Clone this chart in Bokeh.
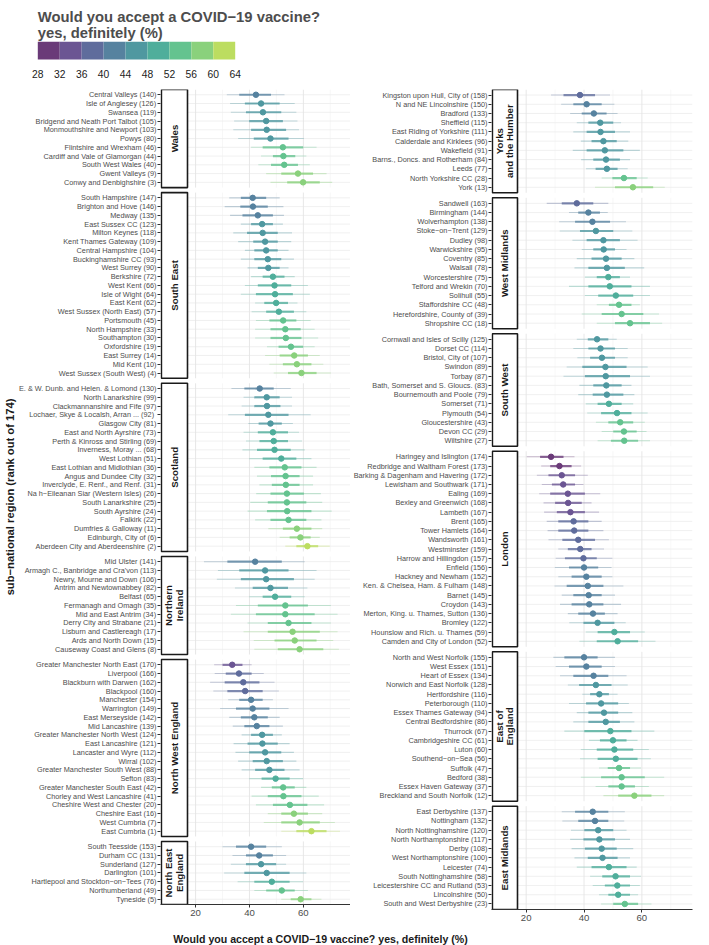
import math
from bokeh.plotting import figure
from bokeh.models import Range1d, FixedTicker, ColumnDataSource, Title
from bokeh.layouts import column, row
from bokeh.embed import file_html
from bokeh.resources import INLINE
from bokeh.core.properties import value

FONT = "Liberation Sans"

# ---------------- legend / axes ----------------
legend_breaks = [28, 32, 36, 40, 44, 48, 52, 56, 60, 64]
legend_colors = ["#6a3a78", "#6b5593", "#5f6c9c", "#56829f", "#4f98a0",
                 "#4fae9b", "#64c38f", "#8ad17c", "#bcdd60"]
x_ticks = [20, 40, 60]
grid_minor = [30, 50, 70]
title_lines = ["Would you accept a COVID\u221219 vaccine?", "yes, definitely (%)"]
x_title = "Would you accept a COVID\u221219 vaccine? yes, definitely (%)"
y_title = "sub\u2212national region (rank out of 174)"

# ---------------- data: left column ----------------
wales_labels = ["Central Valleys (140)", "Isle of Anglesey (126)", "Swansea (119)",
                "Bridgend and Neath Port Talbot (105)", "Monmouthshire and Newport (103)", "Powys (80)",
                "Flintshire and Wrexham (46)", "Cardiff and Vale of Glamorgan (44)", "South West Wales (40)",
                "Gwent Valleys (9)", "Conwy and Denbighshire (3)"]
wales_est = [42.4, 44.3, 45.0, 46.2, 46.4, 47.8, 52.4, 52.6, 52.9, 58.0, 59.9]
wales_lo95 = [31.6, 32.8, 33.1, 34.3, 34.0, 35.8, 40.6, 44.3, 43.3, 46.2, 47.8]
wales_hi95 = [53.0, 56.8, 57.4, 57.8, 58.4, 60.2, 64.9, 61.1, 62.4, 68.6, 70.7]
wales_lo50 = [36.2, 38.3, 38.7, 39.9, 40.6, 41.6, 44.9, 48.7, 48.0, 51.8, 54.0]
wales_hi50 = [48.0, 51.2, 51.8, 52.4, 53.6, 54.5, 59.9, 57.0, 58.0, 63.6, 66.1]

se_labels = ["South Hampshire (147)", "Brighton and Hove (146)", "Medway (135)", "East Sussex CC (123)",
             "Milton Keynes (118)", "Kent Thames Gateway (109)", "Central Hampshire (104)",
             "Buckinghamshire CC (93)", "West Surrey (90)", "Berkshire (72)", "West Kent (66)",
             "Isle of Wight (64)", "East Kent (62)", "West Sussex (North East) (57)", "Portsmouth (45)",
             "North Hampshire (33)", "Southampton (30)", "Oxfordshire (19)", "East Surrey (14)",
             "Mid Kent (10)", "West Sussex (South West) (4)"]
se_est = [41.2, 41.3, 43.1, 44.7, 44.9, 45.8, 46.2, 46.8, 47.0, 48.7, 49.3, 49.5, 49.9, 50.9, 52.5,
          53.3, 53.5, 55.4, 56.6, 57.6, 59.3]
se_lo95 = [32.5, 30.8, 32.8, 36.8, 34.0, 35.8, 38.3, 36.8, 39.3, 40.6, 38.3, 36.8, 42.1, 40.8, 42.4,
           42.1, 42.1, 46.5, 45.8, 47.4, 49.0]
se_hi95 = [51.2, 52.6, 52.8, 52.4, 55.8, 55.5, 54.5, 56.5, 54.5, 56.8, 61.7, 62.4, 57.8, 61.1, 62.7,
           64.2, 65.5, 64.2, 66.1, 67.4, 70.2]
se_lo50 = [36.8, 36.6, 37.4, 40.6, 39.1, 41.4, 41.8, 41.8, 43.1, 44.9, 43.1, 42.4, 45.5, 46.2, 47.4,
           47.8, 47.8, 50.8, 51.2, 52.4, 54.3]
se_hi50 = [46.2, 46.8, 48.7, 48.7, 50.5, 50.5, 50.5, 51.8, 51.2, 53.0, 55.5, 56.1, 54.3, 56.5, 57.4,
           59.0, 59.3, 59.9, 61.7, 63.0, 64.9]

sco_labels = ["E. & W. Dunb. and Helen. & Lomond (130)", "North Lanarkshire (99)",
              "Clackmannanshire and Fife (97)", "Lochaer, Skye & Localsh, Arran ...  (92)",
              "Glasgow City (81)", "East and North Ayrshire (73)", "Perth & Kinross and Stirling (69)",
              "Inverness, Moray ... (68)", "West Lothian (51)", "East Lothian and Midlothian (36)",
              "Angus and Dundee City (32)", "Inverclyde, E. Renf., and Renf. (31)",
              "Na h\u2212Eileanan Siar (Western Isles) (26)", "South Lanarkshire (25)", "South Ayrshire (24)",
              "Falkirk (22)", "Dumfries & Galloway (11)", "Edinburgh, City of (6)",
              "Aberdeen City and Aberdeenshire (2)"]
sco_est = [43.8, 46.4, 46.5, 47.0, 47.8, 48.7, 49.0, 49.3, 51.8, 53.1, 53.4, 53.5, 53.9, 53.9, 54.0,
           54.5, 57.6, 58.9, 61.5]
sco_lo95 = [33.3, 37.8, 37.1, 32.1, 39.6, 37.8, 38.7, 37.4, 39.9, 41.8, 42.8, 43.7, 42.5, 40.3, 39.3,
            42.1, 47.0, 51.2, 53.3]
sco_hi95 = [55.3, 55.8, 55.8, 62.7, 56.1, 58.4, 59.5, 60.5, 63.0, 64.9, 63.6, 63.6, 66.5, 67.0, 70.5,
            66.7, 67.0, 66.1, 69.8]
sco_lo50 = [38.1, 41.8, 41.8, 38.3, 43.4, 43.1, 43.7, 42.8, 44.9, 47.4, 48.0, 48.3, 47.8, 46.8, 46.5,
            47.8, 52.4, 54.9, 57.4]
sco_hi50 = [49.0, 51.2, 51.5, 54.5, 52.0, 54.3, 54.3, 55.3, 57.4, 59.3, 58.6, 58.6, 60.2, 61.1, 63.0,
            61.1, 63.0, 62.7, 65.5]

ni_labels = ["Mid Ulster (141)", "Armagh C., Banbridge and Cra'von (113)", "Newry, Mourne and Down (106)",
             "Antrim and Newtownabbey (82)", "Belfast (65)", "Fermanagh and Omagh (35)",
             "Mid and East Antrim (34)", "Derry City and Strabane (21)", "Lisburn and Castlereagh (17)",
             "Ards and North Down (15)", "Causeway Coast and Glens (8)"]
ni_est = [42.1, 45.8, 46.2, 47.8, 49.5, 53.3, 53.3, 54.5, 56.0, 56.8, 58.6]
ni_lo95 = [23.1, 28.3, 27.9, 34.6, 39.9, 35.0, 33.1, 39.3, 37.8, 41.6, 41.8]
ni_hi95 = [60.5, 64.9, 64.2, 61.5, 60.5, 70.2, 72.7, 70.2, 72.7, 71.1, 73.2]
ni_lo50 = [31.8, 36.2, 36.8, 41.2, 44.9, 43.1, 42.4, 46.8, 46.8, 49.3, 50.5]
ni_hi50 = [52.0, 54.5, 56.5, 54.3, 55.5, 61.7, 64.2, 63.0, 66.1, 64.9, 67.4]

nw_labels = ["Greater Manchester North East (170)", "Liverpool (166)", "Blackburn with Darwen (162)",
             "Blackpool (160)", "Manchester (154)", "Warrington (149)", "East Merseyside (142)",
             "Mid Lancashire (139)", "Greater Manchester North West (124)", "East Lancashire (121)",
             "Lancaster and Wyre (112)", "Wirral (102)", "Greater Manchester South West (88)", "Sefton (83)",
             "Greater Manchester South East (42)", "Chorley and West Lancashire (41)",
             "Cheshire West and Chester (20)", "Cheshire East (16)", "West Cumbria (7)", "East Cumbria (1)"]
nw_est = [33.6, 36.1, 37.7, 38.4, 40.6, 41.2, 41.8, 42.7, 44.7, 44.8, 45.8, 46.4, 47.4, 49.7, 52.5,
          52.6, 55.0, 56.5, 58.6, 63.0]
nw_lo95 = [26.9, 27.1, 25.4, 26.6, 32.1, 29.1, 32.5, 33.8, 37.1, 34.1, 34.8, 35.8, 37.1, 39.9, 44.3,
           40.8, 42.4, 46.8, 45.3, 51.8]
nw_hi95 = [40.8, 45.3, 49.3, 50.9, 48.7, 54.5, 51.2, 52.4, 52.0, 54.9, 56.5, 57.4, 58.6, 59.9, 61.1,
           65.7, 67.7, 67.0, 71.7, 73.6]
nw_lo50 = [30.0, 31.2, 30.8, 31.8, 36.2, 35.0, 36.8, 38.1, 40.6, 39.3, 39.9, 41.2, 42.1, 44.5, 48.3,
           46.8, 48.7, 51.8, 51.8, 57.4]
nw_hi50 = [37.4, 40.8, 43.7, 44.9, 44.9, 47.4, 46.8, 47.4, 48.7, 50.5, 51.8, 52.4, 53.0, 54.9, 56.8,
           59.3, 61.5, 61.7, 66.1, 68.6]

ne_labels = ["South Teesside (153)", "Durham CC (131)", "Sunderland (127)", "Darlington (101)",
             "Hartlepool and Stockton\u2212on\u2212Tees (76)", "Northumberland (49)", "Tyneside (5)"]
ne_est = [40.6, 43.6, 44.3, 46.4, 48.3, 52.0, 59.0]
ne_lo95 = [30.0, 33.7, 33.1, 30.6, 35.6, 41.8, 51.8]
ne_hi95 = [52.0, 53.6, 53.6, 61.1, 59.9, 61.7, 66.7]
ne_lo50 = [35.0, 38.7, 38.7, 38.1, 41.8, 46.2, 55.3]
ne_hi50 = [46.2, 48.7, 49.9, 54.9, 54.9, 56.8, 63.0]

# ---------------- data: right column ----------------
yh_labels = ["Kingston upon Hull, City of (158)", "N and NE Lincolnshire (150)", "Bradford (133)",
             "Sheffield (115)", "East Riding of Yorkshire (111)", "Calderdale and Kirklees (96)",
             "Wakefield (91)", "Barns., Doncs. and Rotherham (84)", "Leeds (77)", "North Yorkshire CC (28)",
             "York (13)"]
yh_est = [38.6, 40.9, 43.4, 45.6, 45.7, 46.7, 47.2, 47.6, 47.9, 53.8, 56.9]
yh_lo95 = [28.6, 32.1, 35.2, 37.5, 36.3, 38.9, 36.1, 39.0, 40.7, 46.1, 43.8]
yh_hi95 = [49.0, 50.5, 51.6, 52.8, 55.9, 55.3, 59.3, 55.9, 55.1, 62.0, 67.9]
yh_lo50 = [32.9, 36.3, 39.2, 41.5, 40.9, 42.6, 40.9, 43.2, 44.0, 49.8, 50.7]
yh_hi50 = [43.8, 46.1, 47.8, 50.1, 50.7, 51.3, 53.6, 52.4, 51.6, 58.2, 63.9]

wm_labels = ["Sandwell (163)", "Birmingham (144)", "Wolverhampton (138)", "Stoke\u2212on\u2212Trent (129)",
             "Dudley (98)", "Warwickshire (95)", "Coventry (85)", "Walsall (78)", "Worcestershire (75)",
             "Telford and Wrekin (70)", "Solihull (55)", "Staffordshire CC (48)",
             "Herefordshire, County of (39)", "Shropshire CC (18)"]
wm_est = [37.5, 41.5, 42.9, 44.1, 46.7, 46.8, 47.6, 47.9, 48.4, 48.9, 51.0, 52.1, 53.0, 55.9]
wm_lo95 = [27.1, 34.8, 31.4, 31.6, 36.0, 39.2, 37.5, 36.7, 40.3, 34.8, 40.3, 44.4, 39.2, 44.4]
wm_hi95 = [48.4, 48.2, 54.5, 56.7, 58.5, 54.7, 57.4, 60.8, 55.9, 62.8, 62.8, 59.3, 65.9, 67.0]
wm_lo50 = [32.3, 38.0, 36.9, 38.6, 40.9, 43.2, 42.6, 41.5, 44.4, 41.5, 44.9, 48.6, 46.1, 50.7]
wm_hi50 = [43.2, 45.5, 49.0, 50.1, 52.4, 50.7, 53.0, 54.1, 52.4, 56.4, 57.0, 56.4, 60.5, 62.8]

sw_labels = ["Cornwall and Isles of Scilly (125)", "Dorset CC (114)", "Bristol, City of (107)",
             "Swindon (89)", "Torbay (87)", "Bath, Somerset and S. Gloucs. (83)",
             "Bournemouth and Poole (79)", "Somerset (71)", "Plymouth (54)", "Gloucestershire (43)",
             "Devon CC (29)", "Wiltshire (27)"]
sw_est = [44.5, 45.7, 46.2, 47.4, 47.5, 47.7, 47.9, 48.6, 51.4, 52.5, 53.8, 53.9]
sw_lo95 = [37.5, 36.3, 37.7, 34.0, 32.9, 38.4, 38.0, 40.6, 41.1, 44.1, 46.1, 44.7]
sw_hi95 = [51.3, 55.1, 55.1, 62.0, 62.8, 56.4, 57.4, 57.0, 62.0, 61.0, 61.6, 62.8]
sw_lo50 = [41.3, 41.5, 42.1, 39.4, 40.3, 43.2, 43.0, 44.7, 45.9, 48.4, 50.1, 49.3]
sw_hi50 = [48.4, 50.7, 50.7, 54.7, 55.9, 53.0, 53.6, 53.0, 56.4, 57.0, 58.2, 58.7]

ldn_labels = ["Haringey and Islington (174)", "Redbridge and Waltham Forest (173)",
              "Barking & Dagenham and Havering (172)", "Lewisham and Southwark (171)", "Ealing (169)",
              "Bexley and Greenwich (168)", "Lambeth (167)", "Brent (165)", "Tower Hamlets (164)",
              "Wandsworth (161)", "Westminster (159)", "Harrow and Hillingdon (157)", "Enfield (156)",
              "Hackney and Newham (152)", "Ken. & Chelsea, Ham. & Fulham (148)", "Barnet (145)",
              "Croydon (143)", "Merton, King. u. Thames, Sutton (136)", "Bromley (122)",
              "Hounslow and Rich. u. Thames (59)", "Camden and City of London (52)"]
ldn_est = [28.6, 31.5, 32.3, 32.8, 34.4, 34.5, 35.3, 36.4, 36.6, 38.0, 38.7, 39.8, 40.0, 40.8, 41.3,
           41.6, 41.8, 43.1, 44.7, 50.5, 51.6]
ldn_lo95 = [20.2, 25.2, 23.7, 25.4, 24.5, 26.0, 26.2, 27.1, 27.4, 27.7, 31.1, 30.2, 29.9, 31.1, 29.8,
            32.3, 31.7, 34.4, 34.9, 40.6, 38.4]
ldn_hi95 = [36.7, 39.0, 41.3, 39.8, 45.6, 42.6, 45.2, 46.1, 46.7, 48.6, 46.9, 49.8, 49.5, 49.8, 53.6,
            50.7, 52.8, 51.6, 54.4, 61.0, 64.7]
ldn_lo50 = [24.8, 28.3, 27.7, 28.9, 28.3, 30.0, 30.6, 31.1, 31.1, 32.5, 34.4, 33.4, 34.8, 35.7, 34.0,
            36.3, 35.7, 38.0, 39.8, 44.7, 44.4]
ldn_hi50 = [32.9, 35.7, 36.9, 36.9, 40.3, 39.2, 40.3, 41.5, 41.5, 43.8, 42.6, 44.4, 44.9, 46.1, 46.7,
            46.1, 46.7, 47.2, 50.5, 55.9, 58.7]

ee_labels = ["North and West Norfolk (155)", "West Essex (151)", "Heart of Essex (134)",
             "Norwich and East Norfolk (128)", "Hertfordshire (116)", "Peterborough (110)",
             "Essex Thames Gateway (94)", "Central Bedfordshire (86)", "Thurrock (67)",
             "Cambridgeshire CC (61)", "Luton (60)", "Southend\u2212on\u2212Sea (56)", "Suffolk (47)",
             "Bedford (38)", "Essex Haven Gateway (37)", "Breckland and South Norfolk (12)"]
ee_est = [40.0, 40.8, 43.3, 44.1, 45.3, 45.9, 46.9, 47.5, 49.1, 50.0, 50.5, 51.0, 52.1, 53.0, 53.0, 57.4]
ee_lo95 = [29.4, 30.2, 31.7, 34.4, 39.4, 34.8, 37.5, 36.3, 33.2, 41.7, 38.9, 38.6, 45.2, 38.9, 44.0, 46.7]
ee_hi95 = [50.7, 50.7, 54.7, 55.1, 51.6, 55.5, 56.7, 57.4, 64.3, 58.5, 62.4, 63.1, 59.7, 67.7, 62.4, 67.7]
ee_lo50 = [33.2, 34.8, 36.3, 38.3, 42.1, 40.7, 41.5, 41.5, 40.1, 45.5, 44.4, 44.7, 48.2, 45.9, 48.4, 51.8]
ee_hi50 = [44.7, 46.1, 48.4, 49.5, 48.6, 51.8, 51.8, 52.4, 56.4, 54.7, 57.0, 58.5, 55.9, 61.0, 57.6, 63.3]

em_labels = ["East Derbyshire (137)", "Nottingham (132)", "North Nottinghamshire (120)",
             "North Northamptonshire (117)", "Derby (108)", "West Northamptonshire (100)", "Leicester (74)",
             "South Nottinghamshire (58)", "Leicestershire CC and Rutland (53)", "Lincolnshire (50)",
             "South and West Derbyshire (23)"]
em_est = [43.0, 43.8, 44.9, 45.3, 46.1, 46.4, 48.6, 50.9, 51.5, 51.8, 54.1]
em_lo95 = [32.3, 32.5, 35.5, 35.2, 35.7, 36.7, 37.5, 42.1, 43.0, 45.2, 45.9]
em_hi95 = [54.1, 53.9, 54.7, 55.9, 57.0, 55.9, 58.2, 59.7, 59.3, 58.7, 63.3]
em_lo50 = [36.9, 38.0, 40.1, 39.8, 40.3, 41.3, 42.6, 46.3, 47.2, 48.4, 50.1]
em_hi50 = [48.4, 48.4, 50.1, 50.7, 51.3, 51.6, 54.7, 55.9, 55.9, 55.9, 58.7]

left_facets = [
    ("Wales", wales_labels, wales_est, wales_lo95, wales_hi95, wales_lo50, wales_hi50),
    ("South East", se_labels, se_est, se_lo95, se_hi95, se_lo50, se_hi50),
    ("Scotland", sco_labels, sco_est, sco_lo95, sco_hi95, sco_lo50, sco_hi50),
    ("Northern\nIreland", ni_labels, ni_est, ni_lo95, ni_hi95, ni_lo50, ni_hi50),
    ("North West England", nw_labels, nw_est, nw_lo95, nw_hi95, nw_lo50, nw_hi50),
    ("North East\nEngland", ne_labels, ne_est, ne_lo95, ne_hi95, ne_lo50, ne_hi50),
]
right_facets = [
    ("Yorks\nand the Humber", yh_labels, yh_est, yh_lo95, yh_hi95, yh_lo50, yh_hi50),
    ("West Midlands", wm_labels, wm_est, wm_lo95, wm_hi95, wm_lo50, wm_hi50),
    ("South West", sw_labels, sw_est, sw_lo95, sw_hi95, sw_lo50, sw_hi50),
    ("London", ldn_labels, ldn_est, ldn_lo95, ldn_hi95, ldn_lo50, ldn_hi50),
    ("East of\nEngland", ee_labels, ee_est, ee_lo95, ee_hi95, ee_lo50, ee_hi50),
    ("East Midlands", em_labels, em_est, em_lo95, em_hi95, em_lo50, em_hi50),
]

# ---------------- layout constants ----------------
X_LO, X_HI = 17.0, 77.5
GAP_PX = 5.0
TXT_GREY = "#4d4d4d"
PAGE_W = 709


def bin_color(v):
    for i in range(len(legend_colors)):
        if v < legend_breaks[i + 1]:
            return legend_colors[i]
    return legend_colors[-1]


def make_column(facets, frame_w, frame_h, strip_px, b_left, b_top, b_bottom, b_right, with_ytitle=False):
    panel_px = frame_w - strip_px
    scale = panel_px / (X_HI - X_LO)
    x_start = X_LO - strip_px / scale
    units = sum(len(f[1]) + 0.2 for f in facets)
    rowh = (frame_h - GAP_PX * (len(facets) - 1)) / units
    gap_u = GAP_PX / rowh
    total = frame_h / rowh

    p = figure(frame_width=frame_w, frame_height=frame_h,
               x_range=Range1d(x_start, X_HI), y_range=Range1d(total, 0),
               min_border_left=b_left, min_border_top=b_top,
               min_border_bottom=b_bottom, min_border_right=b_right,
               output_backend="svg", toolbar_location=None, tools="")
    p.outline_line_color = None
    p.background_fill_color = "white"
    p.border_fill_color = "white"
    p.xgrid.visible = False
    p.ygrid.visible = False

    pts = dict(x=[], y=[], lo95=[], hi95=[], lo50=[], hi50=[], color=[])
    ticks, tick_labels = [], []
    hg = dict(x0=[], x1=[], y=[])
    vmaj = dict(x=[], y0=[], y1=[])
    vmin = dict(x=[], y0=[], y1=[])
    strips = dict(left=[], right=[], top=[], bottom=[], cx=[], cy=[], name=[])

    cur = 0.0
    for name, labels, est, lo95, hi95, lo50, hi50 in facets:
        top = cur
        bottom = top + len(labels) + 0.2
        for i, lab in enumerate(labels):
            y = round(top + 0.6 + i, 6)
            ticks.append(y)
            tick_labels.append(lab)
            pts["x"].append(est[i]); pts["y"].append(y)
            pts["lo95"].append(lo95[i]); pts["hi95"].append(hi95[i])
            pts["lo50"].append(lo50[i]); pts["hi50"].append(hi50[i])
            pts["color"].append(bin_color(est[i]))
            hg["x0"].append(X_LO); hg["x1"].append(X_HI); hg["y"].append(y)
        for g in x_ticks:
            vmaj["x"].append(g); vmaj["y0"].append(top); vmaj["y1"].append(bottom)
        for g in grid_minor:
            vmin["x"].append(g); vmin["y0"].append(top); vmin["y1"].append(bottom)
        strips["left"].append(x_start + 0.9 / scale)
        strips["right"].append(X_LO)
        strips["top"].append(top)
        strips["bottom"].append(bottom)
        strips["cx"].append((x_start + X_LO) / 2)
        strips["cy"].append((top + bottom) / 2)
        strips["name"].append(name)
        cur = bottom + gap_u

    # grid
    p.segment(x0="x", x1="x", y0="y0", y1="y1", source=ColumnDataSource(vmin),
              line_color="#f1f1f1", line_width=0.6)
    p.segment(x0="x0", x1="x1", y0="y", y1="y", source=ColumnDataSource(hg),
              line_color="#ececec", line_width=0.8)
    p.segment(x0="x", x1="x", y0="y0", y1="y1", source=ColumnDataSource(vmaj),
              line_color="#e4e4e4", line_width=0.9)

    # strips
    ssrc = ColumnDataSource(strips)
    p.quad(left="left", right="right", top="top", bottom="bottom", source=ssrc,
           fill_color="white", line_color="#1a1a1a", line_width=1.6)
    p.text(x="cx", y="cy", text="name", source=ssrc, angle=math.pi / 2,
           text_align="center", text_baseline="middle", text_font=value(FONT),
           text_font_style="bold", text_font_size="9.7px", text_color="#1a1a1a",
           text_line_height=0.95)

    # intervals and points
    src = ColumnDataSource(pts)
    p.segment(x0="lo95", x1="hi95", y0="y", y1="y", source=src, line_color="color",
              line_width=1.1, line_alpha=0.35)
    p.segment(x0="lo50", x1="hi50", y0="y", y1="y", source=src, line_color="color",
              line_width=2.2, line_alpha=0.75)
    p.scatter(x="x", y="y", source=src, size=5.5, fill_color="color", line_color="color")

    # axes
    ya = p.yaxis[0]
    ya.ticker = FixedTicker(ticks=ticks)
    ya.major_label_overrides = {t: l for t, l in zip(ticks, tick_labels)}
    ya.axis_line_color = None
    ya.major_tick_line_color = "#333333"
    ya.major_tick_out = 3
    ya.major_tick_in = 0
    ya.minor_tick_line_color = None
    ya.major_label_standoff = 1
    ya.major_label_text_font = FONT
    ya.major_label_text_font_size = "7.3px"
    ya.major_label_text_color = TXT_GREY

    xa = p.xaxis[0]
    xa.ticker = FixedTicker(ticks=x_ticks)
    xa.axis_line_color = "#333333"
    xa.axis_line_width = 1.1
    xa.major_tick_line_color = "#333333"
    xa.major_tick_out = 3
    xa.major_tick_in = 0
    xa.minor_tick_line_color = None
    xa.major_label_standoff = 2
    xa.major_label_text_font = FONT
    xa.major_label_text_font_size = "9.6px"
    xa.major_label_text_color = TXT_GREY

    if with_ytitle:
        p.add_layout(Title(text=y_title, align="center", text_font=FONT, text_font_style="bold",
                           text_font_size="11.2px", text_color="#1a1a1a", standoff=0), "left")
    return p


LEG_H = 86
left = make_column(left_facets, frame_w=190, frame_h=815, strip_px=27,
                   b_left=160, b_top=89 - LEG_H, b_bottom=19, b_right=0, with_ytitle=True)
right = make_column(right_facets, frame_w=201, frame_h=820, strip_px=26,
                    b_left=138, b_top=0, b_bottom=17, b_right=20)

# ---------------- legend figure ----------------
bar_left_px, bar_w_px = 37.3, 197.4
ppu = bar_w_px / (legend_breaks[-1] - legend_breaks[0])
lx0 = legend_breaks[0] - bar_left_px / ppu
leg = figure(width=PAGE_W, height=LEG_H, x_range=Range1d(lx0, lx0 + PAGE_W / ppu),
             y_range=Range1d(LEG_H, 0), x_axis_location=None, y_axis_location=None,
             min_border=0, output_backend="svg", toolbar_location=None, tools="")
leg.outline_line_color = None
leg.xgrid.visible = False
leg.ygrid.visible = False
leg.quad(left=legend_breaks[:-1], right=legend_breaks[1:], top=41.3, bottom=59.0,
         fill_color=legend_colors, line_color=None)
leg.text(x=legend_breaks, y=[73.7] * len(legend_breaks), text=[str(b) for b in legend_breaks],
         text_align="center", text_baseline="alphabetic", text_font=value(FONT),
         text_font_size="10.3px", text_color="#1a1a1a")
leg.text(x=[legend_breaks[0]] * 2, y=[16.7, 32.3], text=title_lines,
         text_align="left", text_baseline="alphabetic", text_font=value(FONT),
         text_font_style="bold", text_font_size="14.8px", text_color=TXT_GREY)

# ---------------- x title figure ----------------
XT_H = 22
xt = figure(width=PAGE_W, height=XT_H, x_range=Range1d(0, PAGE_W), y_range=Range1d(XT_H, 0),
            x_axis_location=None, y_axis_location=None, min_border=0,
            output_backend="svg", toolbar_location=None, tools="")
xt.outline_line_color = None
xt.xgrid.visible = False
xt.ygrid.visible = False
xt.text(x=[320], y=[15.5], text=[x_title], text_align="center", text_baseline="alphabetic",
        text_font=value(FONT), text_font_style="bold", text_font_size="10.6px", text_color="#1a1a1a")

layout = column(leg, row(left, right), xt)
open("out.html", "w").write(file_html(layout, INLINE))
